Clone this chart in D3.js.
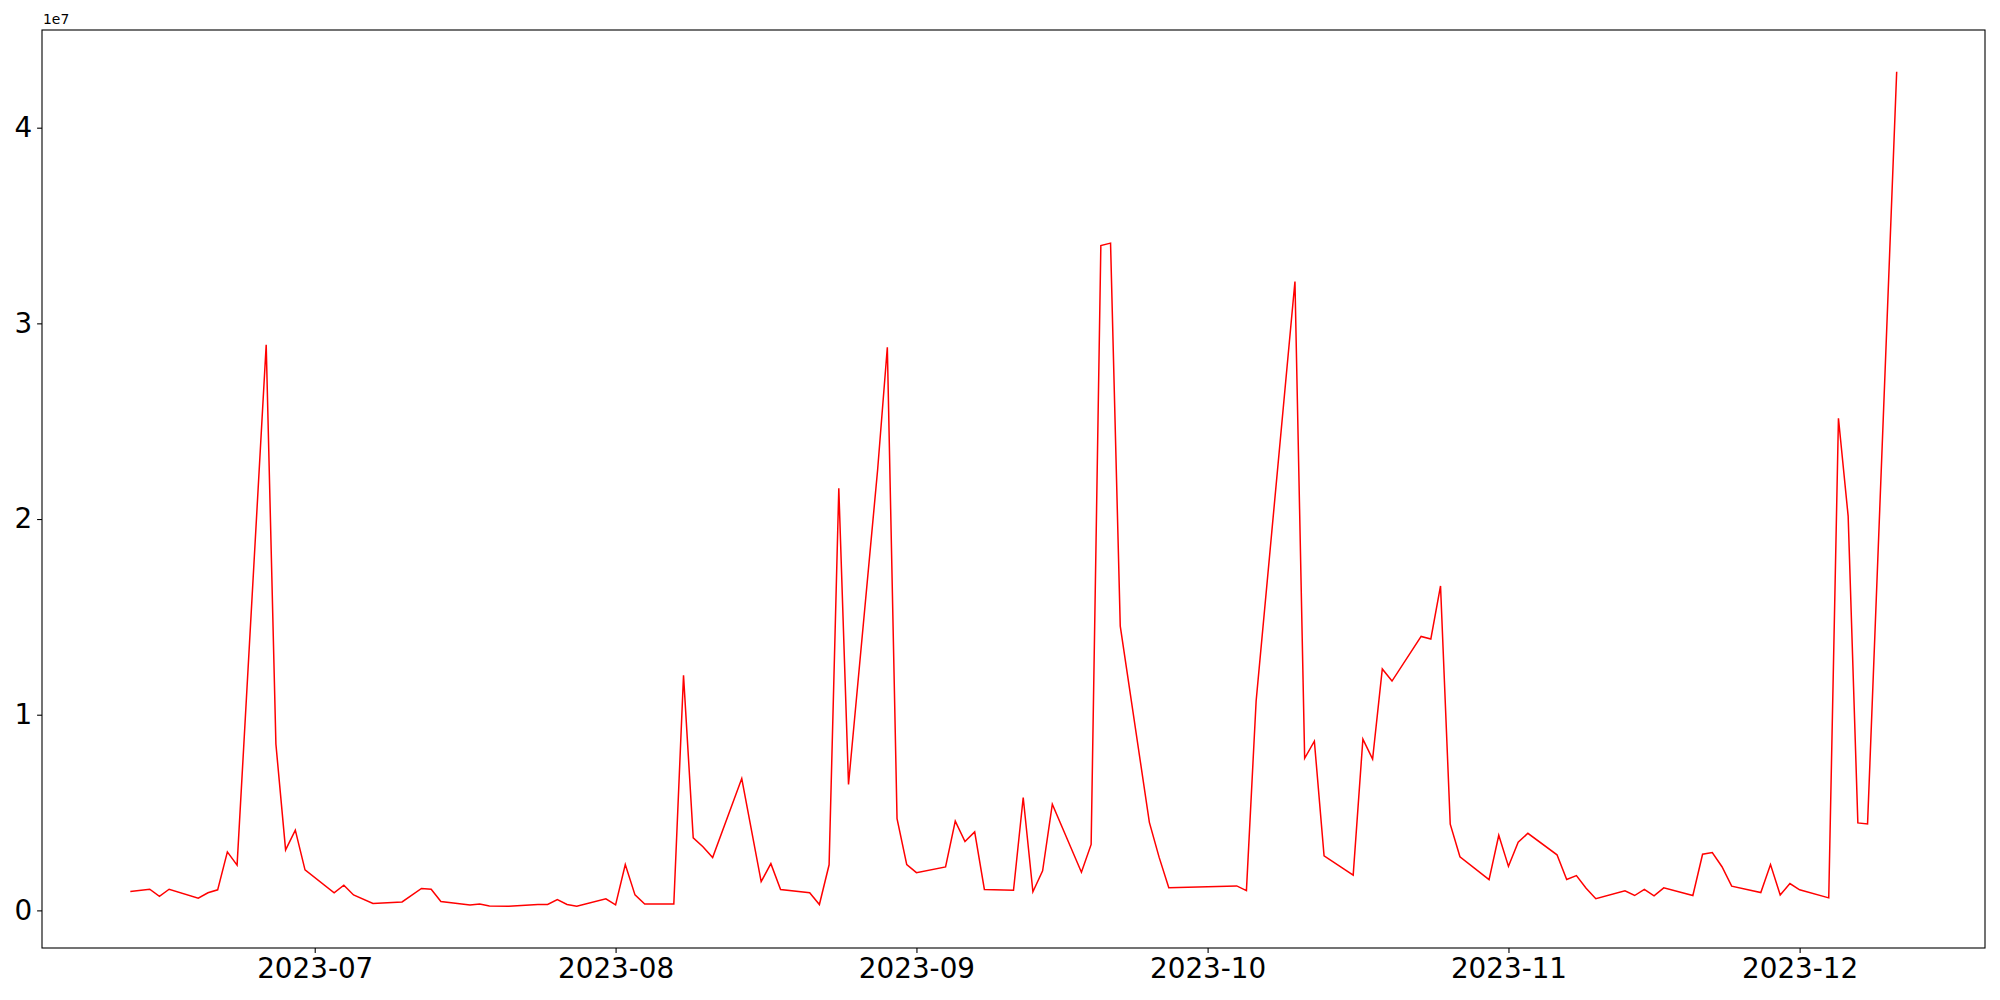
<!DOCTYPE html>
<html>
<head>
<meta charset="utf-8">
<script src="https://cdn.jsdelivr.net/npm/d3@7"></script>
<style>
  html, body { margin: 0; padding: 0; background: #fff; }
  svg { display: block; }
  text { font-family: "DejaVu Sans", sans-serif; }
</style>
</head>
<body>
<svg id="chart" width="2000" height="1000"></svg>
<script>
const dates = [
  "2023-06-12","2023-06-14","2023-06-15","2023-06-16","2023-06-19","2023-06-20","2023-06-21","2023-06-22","2023-06-23",
  "2023-06-26","2023-06-27","2023-06-28","2023-06-29","2023-06-30",
  "2023-07-03","2023-07-04","2023-07-05","2023-07-07","2023-07-10","2023-07-12","2023-07-13","2023-07-14",
  "2023-07-17","2023-07-18","2023-07-19","2023-07-21","2023-07-24","2023-07-25","2023-07-26","2023-07-27","2023-07-28",
  "2023-07-31","2023-08-01","2023-08-02","2023-08-03","2023-08-04","2023-08-07","2023-08-08","2023-08-09","2023-08-10","2023-08-11",
  "2023-08-14","2023-08-16","2023-08-17","2023-08-18","2023-08-21","2023-08-22","2023-08-23","2023-08-24","2023-08-25",
  "2023-08-28","2023-08-29","2023-08-30","2023-08-31","2023-09-01",
  "2023-09-04","2023-09-05","2023-09-06","2023-09-07","2023-09-08","2023-09-11","2023-09-12","2023-09-13","2023-09-14","2023-09-15",
  "2023-09-18","2023-09-19","2023-09-20","2023-09-21","2023-09-22","2023-09-25","2023-09-26","2023-09-27",
  "2023-10-04","2023-10-05","2023-10-06","2023-10-10","2023-10-11","2023-10-12","2023-10-13",
  "2023-10-16","2023-10-17","2023-10-18","2023-10-19","2023-10-20","2023-10-23","2023-10-24","2023-10-25","2023-10-26","2023-10-27",
  "2023-10-30","2023-10-31","2023-11-01","2023-11-02","2023-11-03","2023-11-06","2023-11-07","2023-11-08","2023-11-09","2023-11-10",
  "2023-11-13","2023-11-14","2023-11-15","2023-11-16","2023-11-17","2023-11-20","2023-11-21","2023-11-22","2023-11-23","2023-11-24",
  "2023-11-27","2023-11-28","2023-11-29","2023-11-30","2023-12-01","2023-12-04","2023-12-05","2023-12-06","2023-12-07","2023-12-08",
  "2023-12-11"
];
const values = [
  960000,1080000,720000,1080000,620000,900000,1050000,2990000,2310000,
  28910000,8500000,3090000,4100000,2070000,
  900000,1290000,790000,350000,430000,1120000,1080000,450000,
  270000,330000,230000,210000,300000,300000,550000,300000,210000,
  590000,280000,2340000,790000,330000,330000,12010000,3710000,3250000,2700000,
  6740000,1470000,2390000,1070000,900000,300000,2330000,21570000,6440000,
  22520000,28780000,4690000,2340000,1930000,
  2220000,4560000,3520000,4010000,1070000,1030000,5770000,950000,2020000,5430000,
  1950000,3370000,33980000,34100000,14530000,4500000,2720000,1160000,
  1250000,1010000,10700000,32140000,7770000,8650000,2790000,
  1800000,8750000,7730000,12340000,11720000,14000000,13870000,16580000,4410000,2740000,
  1570000,3840000,2250000,3480000,3940000,2840000,1580000,1780000,1130000,600000,
  1000000,760000,1070000,740000,1150000,760000,2870000,2960000,2230000,1240000,
  910000,2340000,790000,1370000,1050000,640000,25150000,20150000,4470000,4420000,
  42860000
];
const yTicks = [0, 10000000, 20000000, 30000000, 40000000];
const yTickLabels = ["0", "1", "2", "3", "4"];
const offsetLabel = "1e7";

const W = 2000, H = 1000;
const margin = { left: 42, right: 15, top: 30, bottom: 52 };
const svg = d3.select("#chart");

const parse = d3.utcParse("%Y-%m-%d");
const data = dates.map((d, i) => ({ date: parse(d), value: values[i] }));

const xExt = d3.extent(data, d => d.date);
const xPad = (xExt[1] - xExt[0]) * 0.05;
const x = d3.scaleUtc()
  .domain([new Date(+xExt[0] - xPad), new Date(+xExt[1] + xPad)])
  .range([margin.left, W - margin.right]);

const yExt = d3.extent(data, d => d.value);
const yPad = (yExt[1] - yExt[0]) * 0.05;
const y = d3.scaleLinear()
  .domain([yExt[0] - yPad, yExt[1] + yPad])
  .range([H - margin.bottom, margin.top]);

// line
const line = d3.line().x(d => x(d.date)).y(d => y(d.value));
svg.append("path")
  .datum(data)
  .attr("fill", "none")
  .attr("stroke", "#ff0000")
  .attr("stroke-width", 1.5)
  .attr("stroke-linejoin", "miter")
  .attr("d", line);

// x axis
const xAxis = d3.axisBottom(x)
  .ticks(d3.utcMonth.every(1))
  .tickFormat(d3.utcFormat("%Y-%m"))
  .tickSize(4.9)
  .tickPadding(4.9);
const gx = svg.append("g")
  .attr("transform", `translate(0,${H - margin.bottom})`)
  .call(xAxis);
gx.select(".domain").remove();
gx.selectAll("line").attr("stroke", "#000").attr("stroke-width", 1.1);
gx.selectAll("text").attr("font-size", 27.8).attr("fill", "#000")
  .attr("font-family", "DejaVu Sans");

// y axis
const yAxis = d3.axisLeft(y)
  .tickValues(yTicks)
  .tickFormat((d, i) => yTickLabels[i])
  .tickSize(4.9)
  .tickPadding(4.9);
const gy = svg.append("g")
  .attr("transform", `translate(${margin.left},0)`)
  .call(yAxis);
gy.select(".domain").remove();
gy.selectAll("line").attr("stroke", "#000").attr("stroke-width", 1.1);
gy.selectAll("text").attr("font-size", 27.8).attr("fill", "#000")
  .attr("font-family", "DejaVu Sans");

// frame
svg.append("rect")
  .attr("x", margin.left)
  .attr("y", margin.top)
  .attr("width", W - margin.left - margin.right)
  .attr("height", H - margin.top - margin.bottom)
  .attr("fill", "none")
  .attr("stroke", "#000")
  .attr("stroke-width", 1.1);

// offset text
svg.append("text")
  .attr("x", margin.left + 1)
  .attr("y", margin.top - 6)
  .attr("font-size", 13.9)
  .attr("fill", "#000")
  .text(offsetLabel);
</script>
</body>
</html>
